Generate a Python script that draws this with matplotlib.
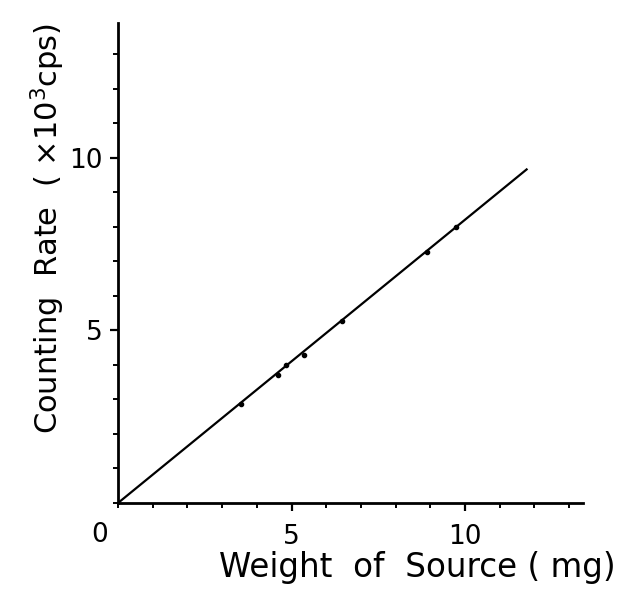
import matplotlib
matplotlib.use("Agg")
import matplotlib.pyplot as plt
from matplotlib.ticker import MultipleLocator, FixedLocator

# Data
weight = [3.55, 4.62, 4.85, 5.35, 6.45, 8.91, 9.73]   # mg
rate = [2.88, 3.70, 3.99, 4.28, 5.26, 7.26, 8.00]     # x10^3 cps
fit_x = [0.0, 11.8]
fit_y = [0.0, 9.68]

x_ticks = [5, 10]
x_ticklabels = ["5", "10"]
y_ticks = [5, 10]
y_ticklabels = ["5", "10"]

plt.rcParams['font.family'] = ['DejaVu Sans']
plt.rcParams['mathtext.fontset'] = 'dejavusans'

fig = plt.figure(figsize=(6.27, 5.90), dpi=100)
ax = fig.add_axes([118/627, 1-503/590, (583-118)/627, (503-23)/590])

ax.plot(fit_x, fit_y, color='black', lw=1.6, solid_capstyle='butt')
ax.plot(weight, rate, 'o', color='black', ms=3)

ax.set_xlim(0, 13.4)
ax.set_ylim(0, 13.9)

for s in ['top', 'right']:
    ax.spines[s].set_visible(False)
for s in ['left', 'bottom']:
    ax.spines[s].set_linewidth(2.0)

ax.xaxis.set_major_locator(FixedLocator(x_ticks))
ax.set_xticklabels(x_ticklabels)
ax.yaxis.set_major_locator(FixedLocator(y_ticks))
ax.set_yticklabels(y_ticklabels)
ax.xaxis.set_minor_locator(MultipleLocator(1))
ax.yaxis.set_minor_locator(MultipleLocator(1))

ax.tick_params(axis='both', which='major', direction='out', length=6, width=1.6,
               labelsize=19)
ax.tick_params(axis='both', which='minor', direction='out', length=3.5, width=1.4)
ax.tick_params(axis='x', which='major', pad=9)
ax.tick_params(axis='y', which='major', pad=5)

ax.text(-0.022, -0.04, "0", transform=ax.transAxes, ha='right', va='top', fontsize=19)

ax.set_xlabel("Weight  of  Source ( mg)", fontsize=23.5)
ax.xaxis.set_label_coords(0.643, -0.10)
ax.set_ylabel(r"Counting  Rate  ( $\times$10$^3$cps)", fontsize=22)
ax.yaxis.set_label_coords(-0.11, 0.573)

fig.savefig("out.png", dpi=100)
